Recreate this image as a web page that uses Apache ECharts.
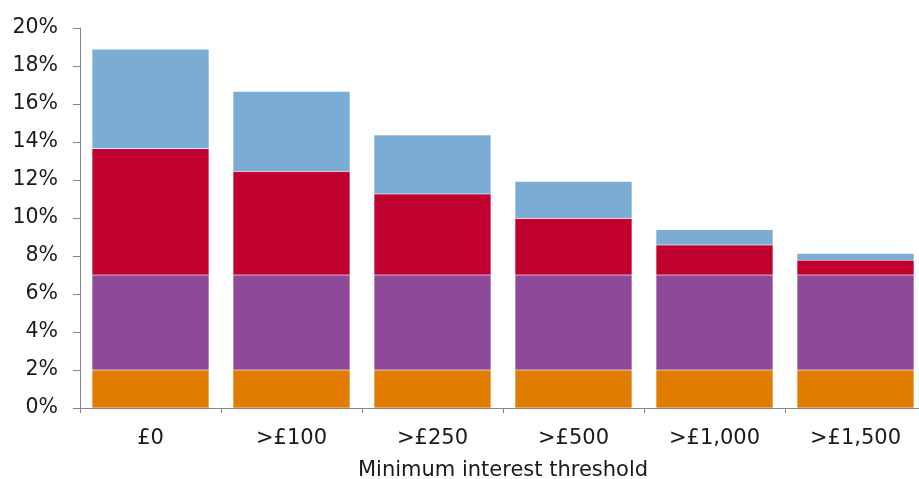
<!DOCTYPE html>
<html>
<head>
<meta charset="utf-8">
<script src="https://cdn.jsdelivr.net/npm/echarts@6/dist/echarts.min.js"></script>
<style>
  html, body { margin: 0; padding: 0; background: #fff; }
  #chart { width: 919px; height: 479px; }
</style>
</head>
<body>
<div id="chart"></div>
<script>
// Minimum interest thresholds (x axis categories)
const categories = ['£0', '>£100', '>£250', '>£500', '>£1,000', '>£1,500'];

// Stacked segments, in percentage points
const baseSegment   = [2, 2, 2, 2, 2, 2];
const secondSegment = [5, 5, 5, 5, 5, 5];
const thirdSegment  = [6.65, 5.45, 4.26, 2.98, 1.58, 0.78];
const topSegment    = [5.23, 4.21, 3.11, 1.94, 0.81, 0.36];

// Y axis range and step (percent)
const yMin = 0;
const yMax = 20;
const yStep = 2;

const FONT = 'DejaVu Sans';
const AXIS_GREY = '#868686';

function seg(name, data, color) {
  return {
    name: name,
    type: 'bar',
    stack: 'total',
    data: data,
    barCategoryGap: '17%',
    itemStyle: { color: color, borderColor: 'rgba(255,255,255,0.18)', borderWidth: 0.6 },
    emphasis: { disabled: true }
  };
}

const chart = echarts.init(document.getElementById('chart'), null, { renderer: 'canvas' });
chart.setOption({
  animation: false,
  backgroundColor: '#ffffff',
  grid: {
    left: 80, top: 28, width: 846, height: 380,
    containLabel: false,
    outerBoundsMode: 'none'
  },
  xAxis: {
    type: 'category',
    data: categories,
    boundaryGap: true,
    name: 'Minimum interest threshold',
    nameLocation: 'middle',
    nameGap: 52,
    nameTextStyle: { fontFamily: FONT, fontSize: 21, color: '#1a1a1a' },
    axisLine: { lineStyle: { color: AXIS_GREY, width: 1 } },
    axisTick: { show: true, length: 5, alignWithLabel: false, lineStyle: { color: AXIS_GREY } },
    axisLabel: { fontFamily: FONT, fontSize: 21, color: '#1a1a1a', margin: 20 }
  },
  yAxis: {
    type: 'value',
    min: yMin,
    max: yMax,
    interval: yStep,
    splitLine: { show: false },
    axisLine: { show: true, lineStyle: { color: AXIS_GREY, width: 1 } },
    axisTick: { show: true, length: 7, lineStyle: { color: AXIS_GREY } },
    axisLabel: {
      fontFamily: FONT, fontSize: 20.5, color: '#1a1a1a', margin: 22,
      formatter: '{value}%'
    }
  },
  series: [
    seg('Base', baseSegment, '#E07C00'),
    seg('Second', secondSegment, '#8E4A99'),
    seg('Third', thirdSegment, '#C0002F'),
    seg('Top', topSegment, '#7BACD4')
  ]
});
</script>
</body>
</html>
